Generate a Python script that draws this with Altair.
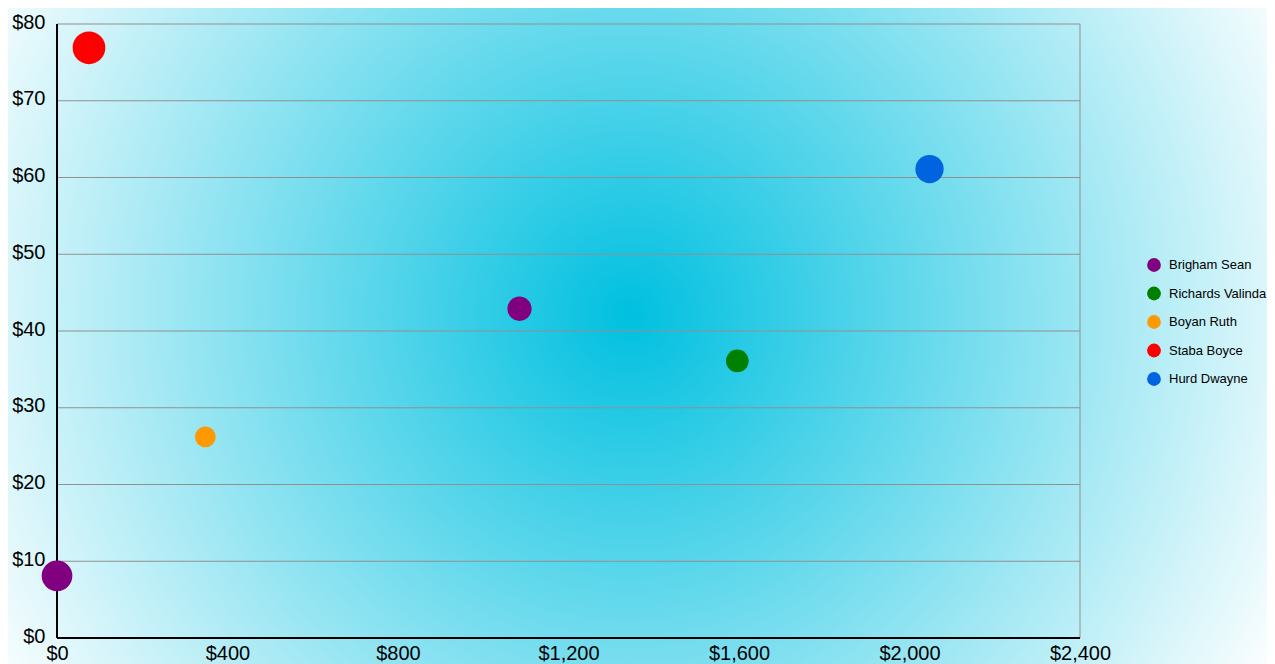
import altair as alt
import pandas as pd

# ---- data ----
names = ["Staba Boyce", "Brigham Sean", "Boyan Ruth", "Brigham Sean", "Richards Valinda", "Hurd Dwayne"]
sales = [75, 0, 348, 1085, 1596, 2047]
price = [76.9, 8.1, 26.2, 42.9, 36.1, 61.1]
bubble = [32.7, 30.7, 20.7, 24.3, 22.7, 28.3]

legend_names = ["Brigham Sean", "Richards Valinda", "Boyan Ruth", "Staba Boyce", "Hurd Dwayne"]
legend_colors = ["#800080", "#008000", "#ff9900", "#ff0000", "#0063e0"]

x_ticks = [0, 400, 800, 1200, 1600, 2000, 2400]
y_ticks = [0, 10, 20, 30, 40, 50, 60, 70, 80]

W, H = 1023, 614
PAD = {"left": 49, "top": 16, "right": 187, "bottom": 26}
FONT = "Arial"

points = pd.DataFrame({"name": names, "sales": sales, "price": price, "bubble": bubble})
grid = pd.DataFrame({"v": y_ticks[1:]})
one = pd.DataFrame({"a": [0]})

xscale = alt.Scale(domain=[0, 2400], nice=False, zero=True)
yscale = alt.Scale(domain=[0, 80], nice=False, zero=True)

# radial gradient background covering the whole chart
bg = alt.Chart(one).mark_rect(
    fill=alt.RadialGradient(
        gradient="radial",
        stops=[alt.GradientStop(color="#00c0e0", offset=0),
               alt.GradientStop(color="#ffffff", offset=1)],
        x1=0.494, y1=0.4825, r1=0, x2=0.494, y2=0.4825, r2=0.588),
    strokeWidth=0,
).encode(
    x=alt.value(-PAD["left"]), x2=alt.value(W + PAD["right"]),
    y=alt.value(-PAD["top"]), y2=alt.value(H + PAD["bottom"]),
)

gridlines = alt.Chart(grid).mark_rule(color="#909090", strokeWidth=1).encode(
    y=alt.Y("v:Q", scale=yscale)
)

right_border = alt.Chart(one).mark_rule(color="#909090", strokeWidth=1).encode(
    x=alt.datum(2400, scale=xscale)
)
left_axis = alt.Chart(one).mark_rule(color="#000000", strokeWidth=2).encode(
    x=alt.datum(0, scale=xscale)
)
bottom_axis = alt.Chart(one).mark_rule(color="#000000", strokeWidth=2).encode(
    y=alt.datum(0, scale=yscale)
)

bubbles = alt.Chart(points).mark_circle(opacity=1, strokeWidth=0).encode(
    x=alt.X("sales:Q", scale=xscale,
            axis=alt.Axis(values=x_ticks, format="$,.0f", title=None, grid=False,
                          domain=False, ticks=False, tickSize=0, labelFlush=False,
                          labelOverlap=False, labelPadding=5, labelFontSize=20,
                          labelFont=FONT, labelColor="#000000", zindex=1)),
    y=alt.Y("price:Q", scale=yscale,
            axis=alt.Axis(values=y_ticks, format="$,.0f", title=None, grid=False,
                          domain=False, ticks=False, tickSize=0, labelFlush=False,
                          labelOverlap=False, labelPadding=12, labelOffset=-2,
                          labelFontSize=20, labelFont=FONT, labelColor="#000000",
                          zindex=1)),
    color=alt.Color("name:N", scale=alt.Scale(domain=legend_names, range=legend_colors),
                    legend=alt.Legend(title=None, orient="none", legendX=1090, legendY=234,
                                      symbolType="circle", symbolSize=190,
                                      symbolStrokeWidth=0, symbolOpacity=1,
                                      labelFontSize=13, labelFont=FONT,
                                      labelColor="#000000", labelOffset=8,
                                      rowPadding=14.5, padding=0)),
    size=alt.Size("bubble:Q", scale=alt.Scale(type="pow", exponent=2, domain=[0, 40],
                                              range=[0, 1600]), legend=None),
)

chart = alt.layer(bg, gridlines, right_border, left_axis, bottom_axis, bubbles).properties(
    width=W, height=H,
    autosize=alt.AutoSizeParams(type="none"),
    padding=PAD,
).configure_view(strokeWidth=0)

chart.save("out.html", embed_options={"renderer": "svg", "actions": False})
